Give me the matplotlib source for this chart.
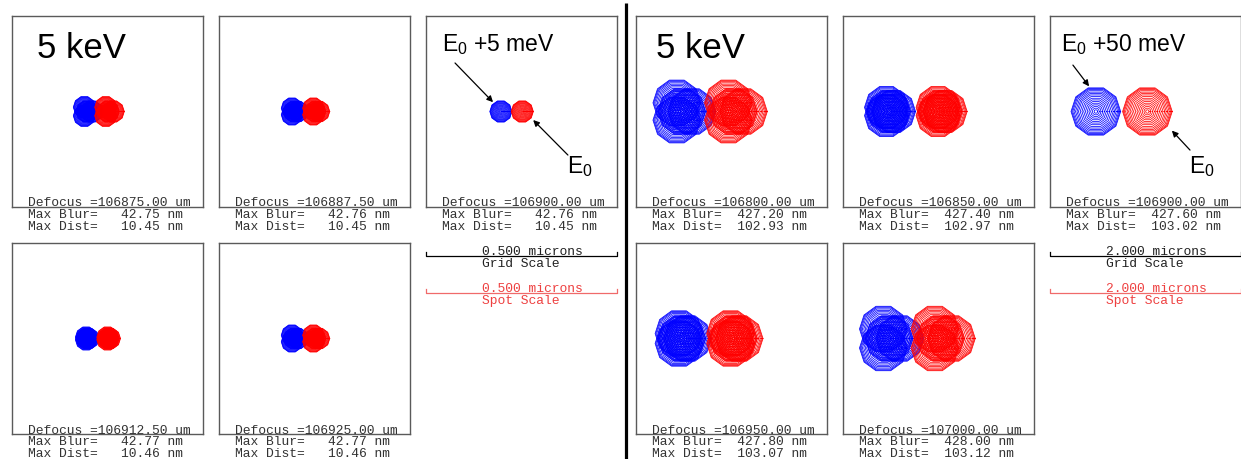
import numpy as np
import matplotlib
matplotlib.use("Agg")
import matplotlib.pyplot as plt
from matplotlib.transforms import blended_transform_factory

plt.rcParams["font.family"] = "Liberation Sans"
plt.rcParams["mathtext.fontset"] = "custom"
plt.rcParams["mathtext.rm"] = "Liberation Sans"
plt.rcParams["mathtext.it"] = "Liberation Sans"

W, H = 1241, 459
BOX = 191          # panel size, px
MONO = "Liberation Mono"

# --- 5 keV, E0 vs E0 + 5 meV ---
defocus_5 = [106875.00, 106887.50, 106900.00, 106912.50, 106925.00]
blur_5 = [42.75, 42.76, 42.76, 42.77, 42.77]
dist_5 = [10.45, 10.45, 10.45, 10.46, 10.46]
radius_5 = [0.029, 0.028, 0.029, 0.028, 0.028]   # spot radius, microns
lobe_5 = [0.013, 0.010, 0.0, 0.004, 0.010]       # trefoil lobe offset, microns
blue_x_5, red_x_5 = -0.054, 0.002
grid_scale_5 = 0.5

# --- 5 keV, E0 vs E0 + 50 meV ---
defocus_50 = [106800.00, 106850.00, 106900.00, 106950.00, 107000.00]
blur_50 = [427.20, 427.40, 427.60, 427.80, 428.00]
dist_50 = [102.93, 102.97, 103.02, 103.07, 103.12]
radius_50 = [0.25, 0.23, 0.26, 0.25, 0.25]
lobe_50 = [0.105, 0.05, 0.0, 0.06, 0.115]
blue_x_50, red_x_50 = -0.52, 0.02
grid_scale_50 = 2.0

# ray rings traced per spot (fraction of spot radius), polygon sides
ring_frac = [1.0, 0.97, 0.93, 0.88, 0.82, 0.76, 0.70, 0.63, 0.56,
             0.49, 0.42, 0.35, 0.28, 0.21, 0.14, 0.07]
SIDES = 10
lobe_angles = np.deg2rad([0, 120, 240])

# panel top-left corners in px (row 1: three boxes, row 2: two)
slots = [(12, 16), (219, 16), (426, 16), (12, 243), (219, 243)]
RIGHT_SHIFT = 624

fig = plt.figure(figsize=(W / 100, H / 100), dpi=100)


def add_panel(x, y, half):
    ax = fig.add_axes([x / W, 1 - (y + BOX) / H, BOX / W, BOX / H])
    ax.set_xlim(-half, half)
    ax.set_ylim(-half, half)
    ax.set_xticks([])
    ax.set_yticks([])
    for s in ax.spines.values():
        s.set_color("#5a5a5a")
        s.set_linewidth(1.0)
    return ax


def draw_spot(ax, cx, radius, lobe, color):
    ang = np.linspace(0, 2 * np.pi, SIDES + 1)
    centers = [(cx, 0.0)]
    if lobe > 0:
        centers += [(cx + lobe * np.cos(a), lobe * np.sin(a)) for a in lobe_angles]
    for x0, y0 in centers:
        for f in ring_frac:
            ax.plot(x0 + f * radius * np.cos(ang), y0 + f * radius * np.sin(ang),
                    color=color, lw=0.55)


def build_half(dx, radius, lobe, bx, rx, scale):
    axes = []
    for i, (x, y) in enumerate(slots):
        ax = add_panel(x + dx, y, scale / 2)
        draw_spot(ax, bx, radius[i], lobe[i], "#0000ff")
        draw_spot(ax, rx, radius[i], lobe[i], "#ff0000")
        axes.append(ax)
    axes[0].text(0.13 if dx == 0 else 0.105, 0.78, "5 keV", transform=axes[0].transAxes,
                 fontsize=25, va="baseline")
    return axes


left = build_half(0, radius_5, lobe_5, blue_x_5, red_x_5, grid_scale_5)
right = build_half(RIGHT_SHIFT, radius_50, lobe_50, blue_x_50, red_x_50, grid_scale_50)

arrow = dict(arrowstyle="-|>", color="black", lw=0.9, mutation_scale=9,
             shrinkA=0, shrinkB=0)


def label_focus(ax, bx, rx, r, txt, tx, blue_ang, blue_k, tail_b, red_tail):
    ax.text(tx, 0.848, txt, transform=ax.transAxes, fontsize=16.5, va="center")
    a = np.deg2rad(blue_ang)
    ax.annotate("", xy=(bx + blue_k * r * np.cos(a), blue_k * r * np.sin(a)),
                xytext=tail_b, textcoords="axes fraction", arrowprops=arrow)
    a = np.deg2rad(-38)
    ax.annotate("", xy=(rx + 1.25 * r * np.cos(a), 1.25 * r * np.sin(a)),
                xytext=red_tail, textcoords="axes fraction", arrowprops=arrow)
    ax.text(red_tail[0] - 0.005, 0.21, r"E$_0$", transform=ax.transAxes,
            fontsize=16.5, va="center")


label_focus(left[2], blue_x_5, red_x_5, radius_5[2], r"E$_0$ +5 meV", 0.084,
            130, 1.1, (0.152, 0.754), (0.743, 0.272))
label_focus(right[2], blue_x_50, red_x_50, radius_50[2], r"E$_0$ +50 meV", 0.058,
            105, 1.05, (0.12, 0.743), (0.733, 0.298))

# overlay in pixel coordinates for captions, scale bars and divider
ov = fig.add_axes([0, 0, 1, 1])
ov.set_xlim(0, W)
ov.set_ylim(H, 0)
ov.axis("off")
ov.patch.set_alpha(0)

for dx, defocus, blur, dist in [(0, defocus_5, blur_5, dist_5),
                                (RIGHT_SHIFT, defocus_50, blur_50, dist_50)]:
    for i, (x, y) in enumerate(slots):
        lines = [f"Defocus ={defocus[i]:.2f} um",
                 f"Max Blur={blur[i]:>8.2f} nm",
                 f"Max Dist={dist[i]:>8.2f} nm"]
        for k, s in enumerate(lines):
            ov.text(x + dx + 16, y + 187.5 + 11.8 * k, s, family=MONO, fontsize=9.4,
                    color="#333333", va="center", ha="left")

for ax, scale, dx in [(left[2], grid_scale_5, 0), (right[2], grid_scale_50, RIGHT_SHIFT)]:
    tr = blended_transform_factory(ax.transData, ov.transData)
    x0, x1 = -scale / 2, scale / 2
    tx = slots[2][0] + dx + 56
    for yb, col, tcol, name in [(256, "black", "#222222", "Grid Scale"),
                                (293, "#f06a6a", "#ee4040", "Spot Scale")]:
        ov.plot([x0, x0, x1, x1], [yb - 4, yb, yb, yb - 4], color=col, lw=0.9,
                transform=tr, clip_on=False)
        ov.text(tx, yb - 4, f"{scale:.3f} microns", family=MONO, fontsize=9.4,
                color=tcol, va="center")
        ov.text(tx, yb + 8, name, family=MONO, fontsize=9.4, color=tcol, va="center")

ov.plot([626, 626], [3, H], color="black", lw=2.3, solid_capstyle="butt")

fig.savefig("out.png", dpi=100)
